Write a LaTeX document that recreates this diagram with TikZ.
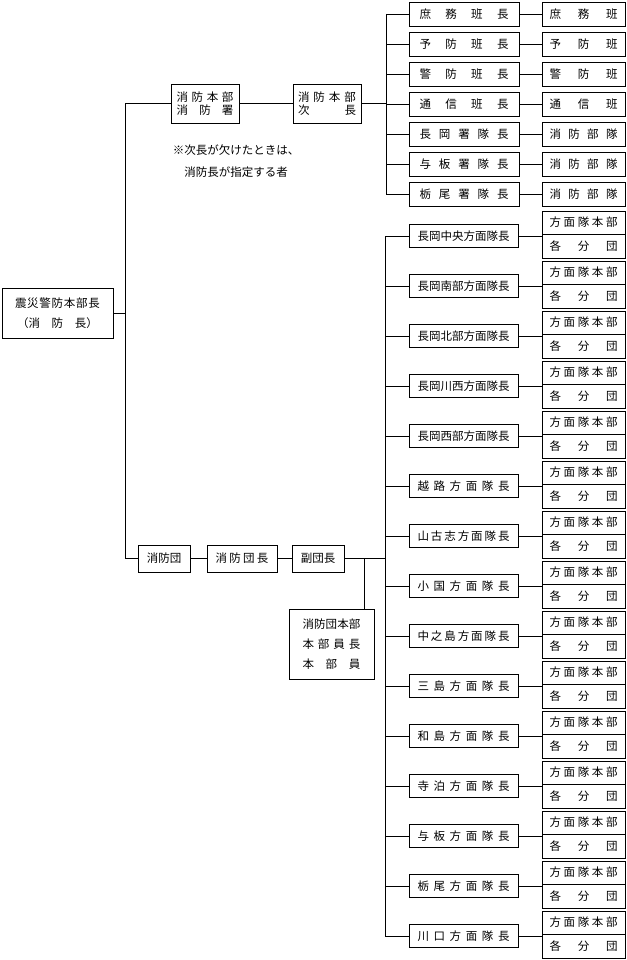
\documentclass[tikz,border=0pt]{standalone}
\usepackage{fontspec}
\setmainfont{Noto Sans CJK JP}
\usetikzlibrary{positioning,calc}
\makeatletter
% spread the characters of #2 evenly over width #1
\def\kin@loop#1#2\kin@end{#1\if\relax\detokenize{#2}\relax\else\hfill\kin@loop#2\kin@end\fi}
\newcommand\kintou[2]{\edef\kin@t{#2}\makebox[#1]{\expandafter\kin@loop\kin@t\kin@end}}
\makeatother

\begin{document}
\begin{tikzpicture}[x=1pt,y=-1pt,line width=0.8pt,
  box/.style={draw,inner sep=0pt,align=center,font=\fontsize{11.5}{13}\selectfont},
  wide/.style={font=\fontsize{11.5}{20}\selectfont}]
\useasboundingbox (0,0) rectangle (626,960);
\coordinate (spine) at (125,0);
\coordinate (bus1) at (386,0);
\coordinate (bus2) at (385,0);

\node[box,wide,minimum width=111pt,minimum height=50pt] (chief) at (57.5,313)
  {\kintou{85pt}{震災警防本部長}\\（\kintou{58pt}{消防長}）};
\node[box,minimum width=68pt,minimum height=39pt] (honbu) at (205,103.5)
  {\kintou{57pt}{消防本部}\\\kintou{57pt}{消防署}};
\node[box,minimum width=68pt,minimum height=39pt] (jicho) at (327,103.5)
  {\kintou{58pt}{消防本部}\\\kintou{58pt}{次長}};
\node[align=center,inner sep=0pt,font=\fontsize{11.5}{22}\selectfont] (note) at (236,161)
  {※次長が欠けたときは、\\消防長が指定する者};

% fire department side
\foreach \hancho/\han [count=\i from 0] in {庶務班長/庶務班,予防班長/予防班,警防班長/警防班,
    通信班長/通信班,長岡署隊長/消防部隊,与板署隊長/消防部隊,栃尾署隊長/消防部隊} {
  \node[box,minimum width=110pt,minimum height=24pt] (lead\i) at (464,{14+30*\i}) {\kintou{89pt}{\hancho}};
  \node[box,minimum width=83pt,minimum height=24pt] (team\i) at (583.5,{14+30*\i}) {\kintou{68pt}{\han}};
  \draw (lead\i.east) -- (team\i.west);
  \draw (lead\i.west -| bus1) -- (lead\i.west);
}
\draw (lead0.west -| bus1) -- (lead6.west -| bus1);
\draw (jicho.east) -- (jicho.east -| bus1);
\draw (honbu.east) -- (jicho.west);

% fire corps side
\node[box,minimum width=52pt,minimum height=27pt] (dan) at (164,558.5) {消防団};
\node[box,minimum width=70pt,minimum height=27pt] (danchou) at (242,558.5) {\kintou{53pt}{消防団長}};
\node[box,minimum width=52pt,minimum height=27pt] (fuku) at (318,558.5) {副団長};
\node[box,wide,minimum width=85pt,minimum height=70pt] (dhq) at (331.5,644)
  {\kintou{58pt}{消防団本部}\\\kintou{58pt}{本部員長}\\\kintou{58pt}{本部員}};
\coordinate (tap) at (364,558.5);
\draw (dan) -- (danchou) -- (fuku);
\draw (fuku.east) -- (fuku.east -| bus2);
\draw (tap) -- (tap |- dhq.north);

\foreach \tai [count=\j from 0] in {長岡中央方面隊長,長岡南部方面隊長,長岡北部方面隊長,
    長岡川西方面隊長,長岡西部方面隊長,越路方面隊長,山古志方面隊長,小国方面隊長,
    中之島方面隊長,三島方面隊長,和島方面隊長,寺泊方面隊長,与板方面隊長,栃尾方面隊長,川口方面隊長} {
  \node[box,minimum width=109pt,minimum height=23pt] (tai\j) at (463.5,{236+50*\j}) {\kintou{92pt}{\tai}};
  \node[box,minimum width=83pt,minimum height=23pt] (hq\j) at (583.5,{222.5+50*\j}) {\kintou{68pt}{方面隊本部}};
  \node[box,minimum width=83pt,minimum height=24pt] (bun\j) at (583.5,{246+50*\j}) {\kintou{68pt}{各分団}};
  \draw (tai\j.east) -- (tai\j.east -| bun\j.west);
  \draw (tai\j.west -| bus2) -- (tai\j.west);
}
\draw (tai0.west -| bus2) -- (tai14.west -| bus2);

% main spine
\draw (chief.east) -- (chief.east -| spine);
\draw (honbu.west) -- (honbu.west -| spine) -- (dan.west -| spine) -- (dan.west);
\end{tikzpicture}
\end{document}
